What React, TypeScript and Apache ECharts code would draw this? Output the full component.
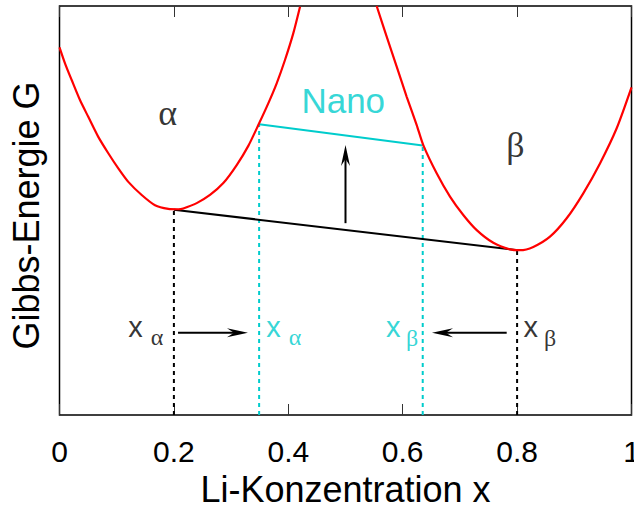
import React, { useEffect, useRef } from "react";
import * as echarts from "echarts";

// Concentration axis ticks
const xTicks = [0, 0.2, 0.4, 0.6, 0.8, 1];

// Free-energy curve of the alpha phase
const alphaX = [0.0, 0.0096, 0.0213, 0.0358, 0.0503, 0.0678, 0.0853, 0.1028, 0.1203, 0.1437, 0.167, 0.1902, 0.2077, 0.2164, 0.2399, 0.2631, 0.2864, 0.3098, 0.3301, 0.3476, 0.365, 0.3797, 0.3942, 0.4087, 0.4205];
const alphaG = [8.99, 8.6, 8.19, 7.7, 7.29, 6.8, 6.4, 6.03, 5.7, 5.38, 5.13, 5.04, 5.03, 5.05, 5.18, 5.38, 5.67, 6.11, 6.58, 7.09, 7.62, 8.11, 8.68, 9.33, 9.98];

// Free-energy curve of the beta phase
const betaX = [0.5545, 0.572, 0.5895, 0.607, 0.6245, 0.636, 0.6594, 0.6827, 0.7059, 0.7294, 0.7584, 0.7876, 0.8051, 0.8283, 0.8575, 0.8867, 0.9157, 0.9449, 0.9741, 1.0];
const betaG = [10.0, 9.25, 8.52, 7.78, 7.09, 6.6, 5.91, 5.34, 4.89, 4.52, 4.21, 4.05, 4.03, 4.11, 4.36, 4.81, 5.42, 6.15, 7.01, 8.01];

// Common tangent (bulk) and the raised tangent (nano)
const bulkX = [0.2, 0.8];
const bulkG = [5.02, 4.03];
const nanoX = [0.349, 0.635];
const nanoG = [7.11, 6.59];

// Arrows: start and end points
const arrowFromX = [0.2072, 0.7818, 0.5];
const arrowFromG = [2.01, 2.01, 4.69];
const arrowToX = [0.3295, 0.6512, 0.5];
const arrowToG = [2.01, 2.01, 6.6];

// Text annotations
const labelText = ["α", "β", "Nano", "x", "α", "x", "α", "x", "β", "x", "β"];
const labelX = [0.189, 0.797, 0.496, 0.1329, 0.1705, 0.3741, 0.4117, 0.5836, 0.6163, 0.8238, 0.8575];
const labelG = [7.38, 6.6, 7.7, 2.14, 1.91, 2.14, 1.91, 2.14, 1.88, 2.14, 1.88];
const labelKind = ["greek", "greek", "nano", "x", "sub", "xc", "subc", "xc", "subc", "x", "sub"];

const SANS = "'Liberation Sans', Arial, Helvetica, sans-serif";
const SERIF = "'Liberation Serif', 'Times New Roman', serif";
const CYAN = "#00cccc";
const RED = "#ff0000";

const kindStyle: Record<string, { size: number; color: string; family: string }> = {
  greek: { size: 36, color: "#000", family: SERIF },
  nano: { size: 35, color: CYAN, family: SANS },
  x: { size: 29, color: "#000", family: SANS },
  xc: { size: 29, color: CYAN, family: SANS },
  sub: { size: 24, color: "#000", family: SERIF },
  subc: { size: 24, color: CYAN, family: SERIF },
};

const zip = (xs: number[], ys: number[]) => xs.map((x, i) => [x, ys[i]]);

const guide = (x: number, top: number, color: string) => ({
  type: "line",
  data: [
    [x, 0],
    [x, top],
  ],
  showSymbol: false,
  silent: true,
  z: 1,
  lineStyle: { color, width: 2, type: [4, 4] },
});

export default function App() {
  const ref = useRef<HTMLDivElement>(null);

  useEffect(() => {
    if (!ref.current) return;
    const chart = echarts.init(ref.current, undefined, { renderer: "svg" });

    const arrowData = arrowFromX.map((x, i) => [x, arrowFromG[i], arrowToX[i], arrowToG[i]]);

    const labelData = labelText.map((t, i) => {
      const s = kindStyle[labelKind[i]];
      return {
        value: [labelX[i], labelG[i]],
        label: {
          show: true,
          formatter: t,
          position: [0, 0],
          align: "center",
          verticalAlign: "middle",
          fontSize: s.size,
          color: s.color,
          fontFamily: s.family,
        },
      };
    });

    const option: any = {
      animation: false,
      grid: {
        left: 59.5,
        right: 2.5,
        top: 6,
        bottom: 93,
        containLabel: false,
        outerBoundsMode: "none",
        show: true,
        borderColor: "#000",
        borderWidth: 1.5,
        backgroundColor: "transparent",
      },
      xAxis: [
        {
          type: "value",
          position: "bottom",
          min: xTicks[0],
          max: xTicks[xTicks.length - 1],
          interval: 0.2,
          axisLine: { show: false },
          axisTick: { show: true, inside: true, length: 11, lineStyle: { color: "#333", width: 1 } },
          axisLabel: { fontSize: 30, color: "#000", fontFamily: SANS, margin: 21 },
          splitLine: { show: false },
          name: "Li-Konzentration x",
          nameLocation: "middle",
          nameGap: 56,
          nameTextStyle: { fontSize: 36, color: "#000", fontFamily: SANS },
        },
        {
          type: "value",
          position: "top",
          min: xTicks[0],
          max: xTicks[xTicks.length - 1],
          interval: 0.2,
          axisLine: { show: false },
          axisTick: { show: true, inside: true, length: 11, lineStyle: { color: "#333", width: 1 } },
          axisLabel: { show: false },
          splitLine: { show: false },
        },
      ],
      yAxis: {
        type: "value",
        min: 0,
        max: 10,
        axisLine: { show: false },
        axisTick: { show: false },
        axisLabel: { show: false },
        splitLine: { show: false },
        name: "Gibbs-Energie G",
        nameLocation: "middle",
        nameGap: 15,
        nameTextStyle: { fontSize: 36, color: "#000", fontFamily: SANS, padding: [0, 10, 0, 0] },
      },
      series: [
        guide(bulkX[0], bulkG[0], "#000"),
        guide(bulkX[1], bulkG[1], "#000"),
        guide(nanoX[0], nanoG[0], CYAN),
        guide(nanoX[1], nanoG[1], CYAN),
        {
          type: "line",
          data: zip(bulkX, bulkG),
          showSymbol: false,
          silent: true,
          z: 2,
          lineStyle: { color: "#000", width: 2 },
        },
        {
          type: "line",
          data: zip(nanoX, nanoG),
          showSymbol: false,
          silent: true,
          z: 2,
          lineStyle: { color: CYAN, width: 2 },
        },
        {
          type: "line",
          data: zip(alphaX, alphaG),
          smooth: 0.25,
          showSymbol: false,
          silent: true,
          z: 3,
          lineStyle: { color: RED, width: 2.2 },
        },
        {
          type: "line",
          data: zip(betaX, betaG),
          smooth: 0.25,
          showSymbol: false,
          silent: true,
          z: 3,
          lineStyle: { color: RED, width: 2.2 },
        },
        {
          type: "custom",
          data: arrowData,
          silent: true,
          z: 4,
          renderItem: (_params: any, api: any) => {
            const p1 = api.coord([api.value(0), api.value(1)]);
            const p2 = api.coord([api.value(2), api.value(3)]);
            const dx = p2[0] - p1[0];
            const dy = p2[1] - p1[1];
            const len = Math.hypot(dx, dy) || 1;
            const ux = dx / len;
            const uy = dy / len;
            const nx = -uy;
            const ny = ux;
            const headLen = 21;
            const halfW = 4.5;
            const notch = 14;
            const bx = p2[0] - ux * headLen;
            const by = p2[1] - uy * headLen;
            const mx = p2[0] - ux * notch;
            const my = p2[1] - uy * notch;
            return {
              type: "group",
              children: [
                {
                  type: "line",
                  shape: { x1: p1[0], y1: p1[1], x2: mx, y2: my },
                  style: { stroke: "#000", lineWidth: 2 },
                },
                {
                  type: "polygon",
                  shape: {
                    points: [
                      [p2[0], p2[1]],
                      [bx + nx * halfW, by + ny * halfW],
                      [mx, my],
                      [bx - nx * halfW, by - ny * halfW],
                    ],
                  },
                  style: { fill: "#000" },
                },
              ],
            };
          },
        },
        {
          type: "scatter",
          data: labelData,
          symbolSize: 0,
          silent: true,
          z: 5,
        },
      ],
    };

    chart.setOption(option);
    return () => chart.dispose();
  }, []);

  return (
    <div
      ref={ref}
      style={{ position: "fixed", left: 0, top: 0, width: 634, height: 508, background: "#fff" }}
    />
  );
}
